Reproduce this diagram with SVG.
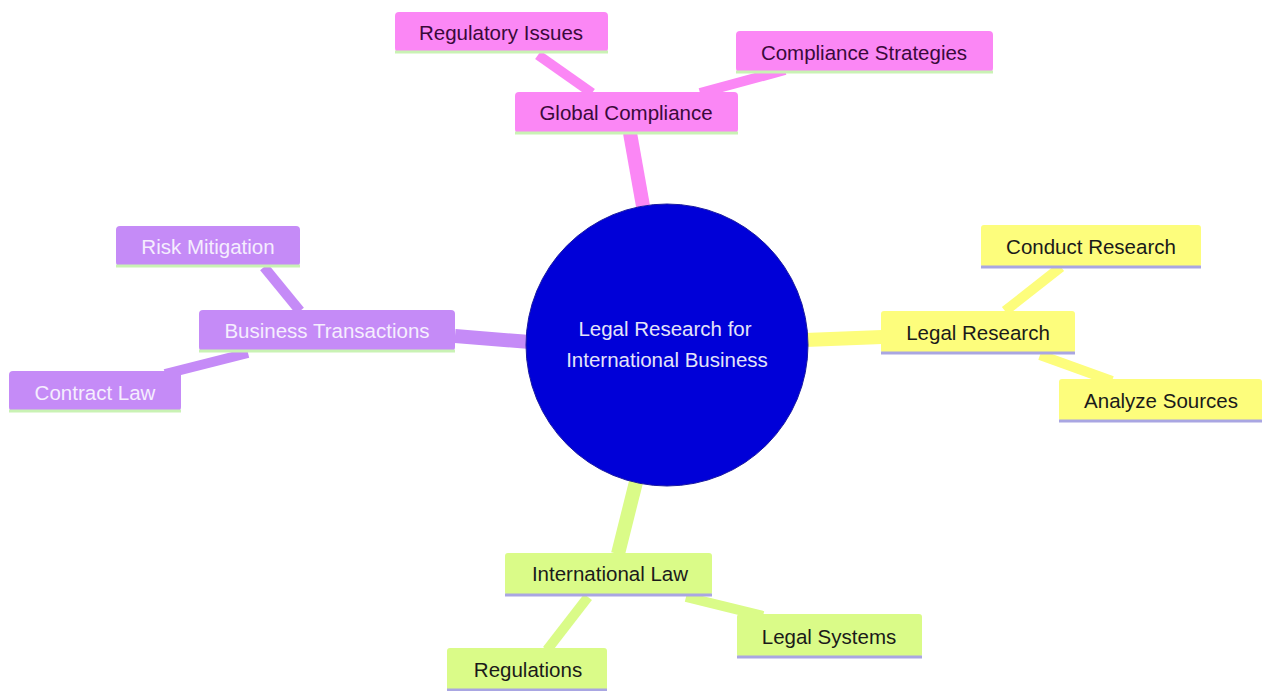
<svg xmlns="http://www.w3.org/2000/svg" width="1262" height="691" viewBox="0 0 1262 691">
<style>
text{font-family:"Liberation Sans",Arial,sans-serif;font-size:20.5px;text-anchor:middle;dominant-baseline:central}
.pk{fill:#fb87f5}.pu{fill:#c58bf7}.ye{fill:#fdfd7c}.gr{fill:#dafb88}
.bg{stroke:#c9f2b4;stroke-width:3}.bl{stroke:#a9a6e2;stroke-width:3}
.tpk{fill:#3a0a3a}.tpu{fill:#f5eefe}.tye{fill:#1a1a1a}.tgr{fill:#1a1a1a}
.c{fill:none;stroke-linecap:butt}
</style>
<rect width="1262" height="691" fill="#ffffff"/>
<g id="connectors">
<line class="c" x1="643" y1="206" x2="630" y2="133" stroke="#fb87f5" stroke-width="14"/>
<line class="c" x1="592" y1="93" x2="538" y2="55" stroke="#fb87f5" stroke-width="10"/>
<line class="c" x1="700" y1="93" x2="785" y2="70" stroke="#fb87f5" stroke-width="10"/>
<line class="c" x1="530" y1="342" x2="455" y2="336" stroke="#c58bf7" stroke-width="14"/>
<line class="c" x1="300" y1="311" x2="264" y2="267" stroke="#c58bf7" stroke-width="10"/>
<line class="c" x1="248" y1="353" x2="165" y2="374" stroke="#c58bf7" stroke-width="10"/>
<line class="c" x1="805" y1="340" x2="882" y2="337" stroke="#fdfd7c" stroke-width="14"/>
<line class="c" x1="1005" y1="311" x2="1061" y2="267" stroke="#fdfd7c" stroke-width="10"/>
<line class="c" x1="1040" y1="355" x2="1112" y2="381" stroke="#fdfd7c" stroke-width="10"/>
<line class="c" x1="636" y1="482" x2="618" y2="554" stroke="#dafb88" stroke-width="14"/>
<line class="c" x1="588" y1="597" x2="547" y2="650" stroke="#dafb88" stroke-width="10"/>
<line class="c" x1="686" y1="597" x2="763" y2="616" stroke="#dafb88" stroke-width="10"/>
</g>
<g id="root">
<circle cx="667" cy="345" r="141" fill="#0000d8" stroke="#1a1aa0" stroke-width="1"/>
<text x="665" y="328" fill="#e4e4f8">Legal Research for</text>
<text x="667" y="359" fill="#e4e4f8">International Business</text>
</g>
<g id="global-compliance">
<rect class="pk" x="515" y="92" width="223" height="41" rx="4"/>
<line class="bg" x1="515" y1="133" x2="738" y2="133"/>
<text class="tpk" x="626" y="112">Global Compliance</text>
</g>
<g id="regulatory-issues">
<rect class="pk" x="395" y="12" width="213" height="40" rx="4"/>
<line class="bg" x1="395" y1="52" x2="608" y2="52"/>
<text class="tpk" x="501" y="32">Regulatory Issues</text>
</g>
<g id="compliance-strategies">
<rect class="pk" x="736" y="31" width="257" height="41" rx="4"/>
<line class="bg" x1="736" y1="72" x2="993" y2="72"/>
<text class="tpk" x="864" y="52">Compliance Strategies</text>
</g>
<g id="business-transactions">
<rect class="pu" x="199" y="310" width="256" height="41" rx="4"/>
<line class="bg" x1="199" y1="351" x2="455" y2="351"/>
<text class="tpu" x="327" y="330">Business Transactions</text>
</g>
<g id="risk-mitigation">
<rect class="pu" x="116" y="226" width="184" height="40" rx="4"/>
<line class="bg" x1="116" y1="266" x2="300" y2="266"/>
<text class="tpu" x="208" y="246">Risk Mitigation</text>
</g>
<g id="contract-law">
<rect class="pu" x="9" y="371" width="172" height="40" rx="4"/>
<line class="bg" x1="9" y1="411" x2="181" y2="411"/>
<text class="tpu" x="95" y="392">Contract Law</text>
</g>
<g id="legal-research">
<rect class="ye" x="881" y="311" width="194" height="42" rx="3"/>
<line class="bl" x1="881" y1="353" x2="1075" y2="353"/>
<text class="tye" x="978" y="332">Legal Research</text>
</g>
<g id="conduct-research">
<rect class="ye" x="981" y="225" width="220" height="42" rx="3"/>
<line class="bl" x1="981" y1="267" x2="1201" y2="267"/>
<text class="tye" x="1091" y="246">Conduct Research</text>
</g>
<g id="analyze-sources">
<rect class="ye" x="1059" y="379" width="203" height="42" rx="3"/>
<line class="bl" x1="1059" y1="421" x2="1262" y2="421"/>
<text class="tye" x="1161" y="400">Analyze Sources</text>
</g>
<g id="international-law">
<rect class="gr" x="505" y="553" width="207" height="42" rx="3"/>
<line class="bl" x1="505" y1="595" x2="712" y2="595"/>
<text class="tgr" x="610" y="573">International Law</text>
</g>
<g id="legal-systems">
<rect class="gr" x="737" y="614" width="185" height="43" rx="3"/>
<line class="bl" x1="737" y1="657" x2="922" y2="657"/>
<text class="tgr" x="829" y="636">Legal Systems</text>
</g>
<g id="regulations">
<rect class="gr" x="447" y="648" width="160" height="43" rx="3"/>
<line class="bl" x1="447" y1="690" x2="607" y2="690"/>
<text class="tgr" x="528" y="669">Regulations</text>
</g>
</svg>
